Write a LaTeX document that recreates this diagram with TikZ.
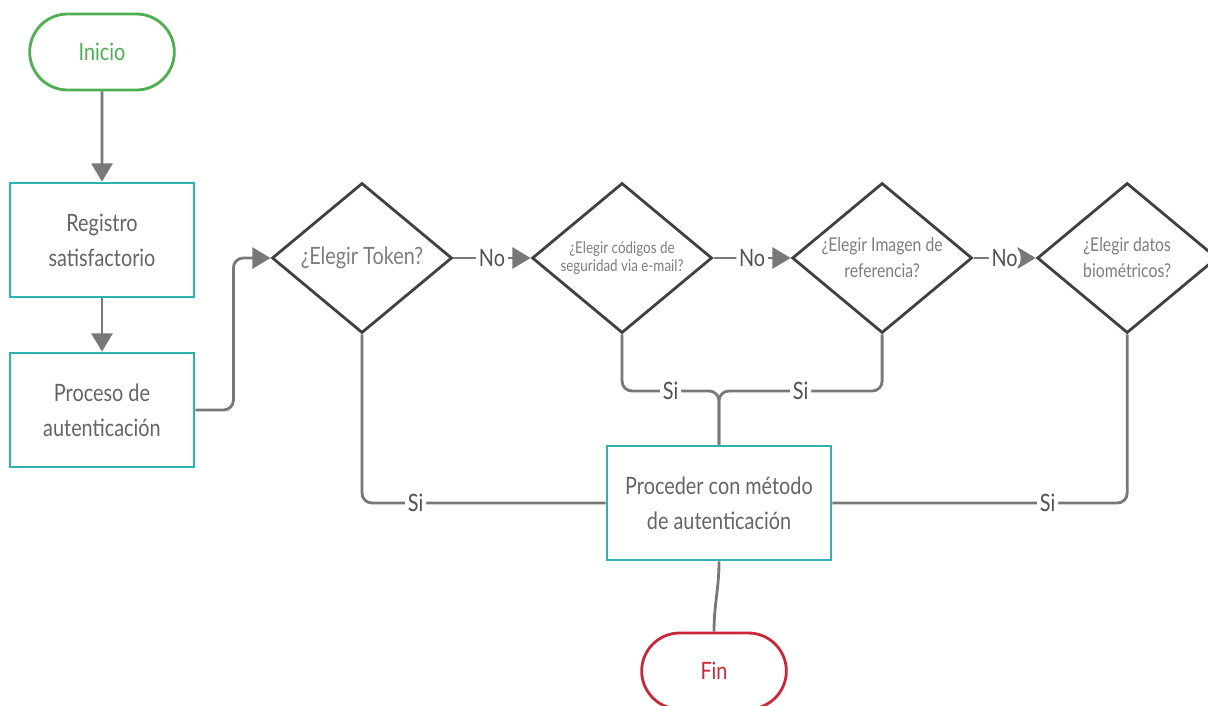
\documentclass[tikz,border=0pt]{standalone}
\usepackage{fontspec}
\setmainfont{Lato}[FakeStretch=0.83]
\usetikzlibrary{arrows.meta,shapes}

\definecolor{startgreen}{RGB}{76,175,80}
\definecolor{endred}{RGB}{200,40,55}
\definecolor{boxteal}{RGB}{44,178,178}
\definecolor{textgray}{RGB}{100,100,100}
\definecolor{asktext}{RGB}{125,125,125}
\definecolor{linegray}{RGB}{120,120,120}
\definecolor{edgegray}{RGB}{65,65,65}

\begin{document}
\begin{tikzpicture}[x=0.025cm,y=-0.025cm,line width=2pt,
                    >={Triangle[length=13pt,width=15pt]},node distance=6.5cm,
                    font=\fontsize{17}{25}\selectfont,
                    term node/.style={rounded rectangle,draw,minimum width=3.85cm,minimum height=1.9cm},
                    main node/.style={rectangle,draw=boxteal,text=textgray,minimum height=2.85cm,align=center},
                    ask node/.style={diamond,draw=edgegray,text=asktext,minimum width=4.5cm,
                                     minimum height=3.75cm,inner sep=-14pt,align=center},
                    link/.style={color=linegray,rounded corners=7pt},
                    tag/.style={fill=white,text=black!68,inner sep=2pt}]

  \useasboundingbox (0,0) rectangle (1208,705);

  \node[term node,draw=startgreen,text=startgreen] (1) at (102,52) {Inicio};
  \node[main node,minimum width=4.6cm] (2) at (102,240) {Registro\\satisfactorio};
  \node[main node,minimum width=4.6cm] (3) at (102,410) {Proceso de\\autenticación};
  \node[ask node] (4) at (362,258) {¿Elegir Token?};
  \node[ask node,font=\fontsize{11.5}{13}\selectfont] (5) [right of=4] {¿Elegir códigos de\\seguridad via e-mail?};
  \node[ask node,font=\fontsize{13.5}{18.5}\selectfont] (6) [right of=5] {¿Elegir Imagen de\\referencia?};
  \node[ask node,font=\fontsize{13.5}{18.5}\selectfont] (7) [right of=6,node distance=6.125cm] {¿Elegir datos\\biométricos?};
  \node[main node,minimum width=5.6cm] (8) at (719,503) {Proceder con método\\de autenticación};
  \node[term node,draw=endred,text=endred] (9) at (714,671) {Fin};

  \coordinate (10) at (719,391);

  \path[link,->]
    (1) edge (2)
    (2) edge (3)
    (4) edge node[tag] {No} (5)
    (5) edge node[tag] {No} (6)
    (6) edge node[tag] {No} (7);

  \draw[link,->] (3.east) -- ++(38,0) |- (4.west);
  \draw[link] (4.south) |- node[tag,pos=0.61] {Si} (8.west);
  \draw[link] (7.south) |- node[tag,pos=0.635] {Si} (8.east);
  \draw[link] (5.south) |- node[tag,pos=0.75] {Si} (10) -- (8.north);
  \draw[link] (6.south) |- node[tag,pos=0.75] {Si} (10) -- (8.north);
  \draw[link] (8.south) to[out=-90,in=90] (9.north);
\end{tikzpicture}
\end{document}
